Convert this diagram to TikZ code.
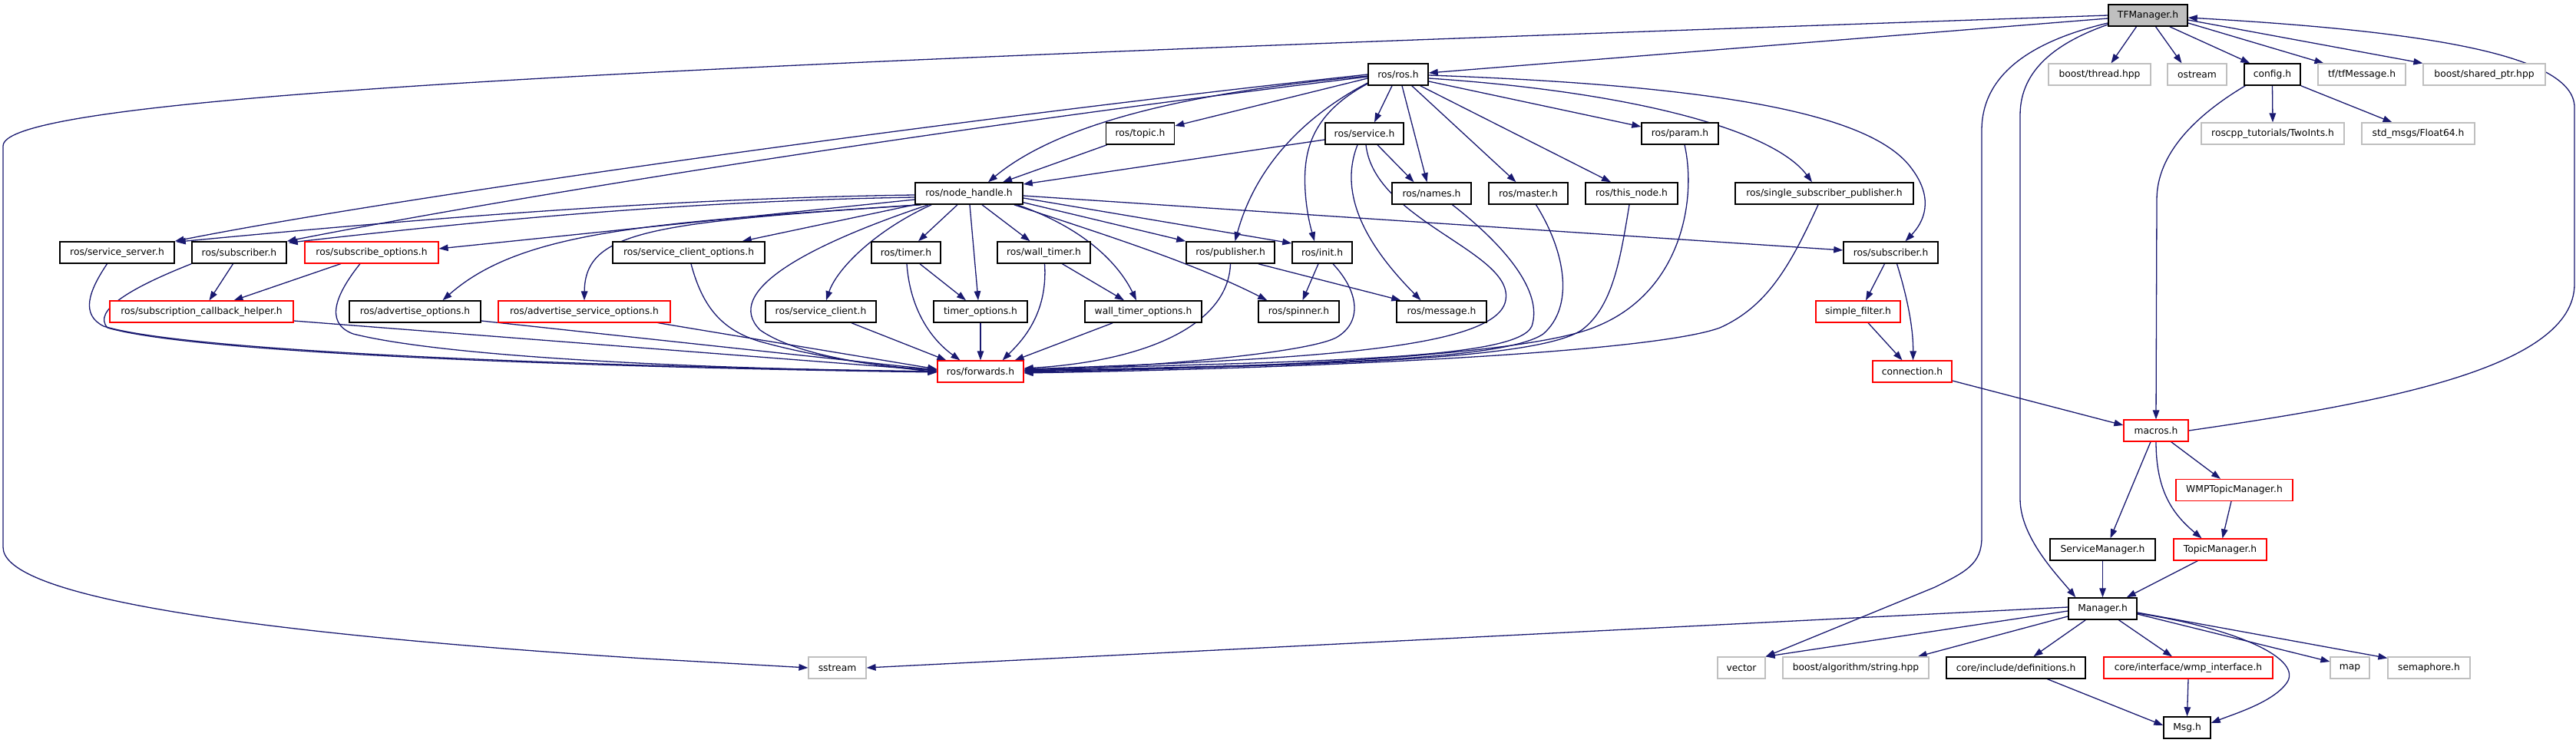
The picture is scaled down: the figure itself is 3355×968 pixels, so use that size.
\documentclass[tikz,border=0pt]{standalone}
\usepackage{fontspec}
\setmainfont{DejaVu Sans}
\usetikzlibrary{arrows.meta,calc,backgrounds}
\definecolor{edgec}{HTML}{191970}
\definecolor{greyb}{HTML}{BFBFBF}
\definecolor{redb}{HTML}{FF0000}
\newcommand\gfont{\fontsize{12.3}{14}\selectfont}
\begin{document}
\begin{tikzpicture}[x=1pt,y=-1pt,
  nb/.style={draw=black, line width=1.5pt, fill=white, minimum height=28pt, inner sep=0pt, font=\gfont},
  nr/.style={nb, draw=redb, line width=1.2pt},
  ng/.style={nb, draw=greyb, line width=1.2pt},
  e/.style={draw=edgec, line width=1.3pt, -{Triangle[length=12pt,width=8.5pt]}}]
\useasboundingbox (0,0) rectangle (3355,968);
% row 0
\node[nb,fill=greyb,minimum width=103pt] (tf) at (2797.5,20) {TFManager.h};
% row 1
\node[nb,minimum width=78pt] (ros) at (1821,97) {ros/ros.h};
\node[ng,minimum width=133pt] (bthread) at (2734.5,97) {boost/thread.hpp};
\node[ng,minimum width=77pt] (ostream) at (2861.5,97) {ostream};
\node[nb,minimum width=73pt] (config) at (2959.5,97) {config.h};
\node[ng,minimum width=114pt] (tfmsg) at (3076,97) {tf/tfMessage.h};
\node[ng,minimum width=159pt] (bshared) at (3235.5,97) {boost/shared\_ptr.hpp};
% row 2
\node[nb,minimum width=89pt] (topic) at (1485,174) {ros/topic.h};
\node[nb,minimum width=102pt] (service) at (1777,174) {ros/service.h};
\node[nb,minimum width=100pt] (param) at (2188,174) {ros/param.h};
\node[ng,minimum width=186pt] (twoints) at (2960,174) {roscpp\_tutorials/TwoInts.h};
\node[ng,minimum width=147pt] (float64) at (3149.5,174) {std\_msgs/Float64.h};
% row 3
\node[nb,minimum width=140pt] (nh) at (1262,252) {ros/node\_handle.h};
\node[nb,minimum width=103pt] (names) at (1864.5,252) {ros/names.h};
\node[nb,minimum width=103pt] (master) at (1990.5,252) {ros/master.h};
\node[nb,minimum width=120pt] (thisnode) at (2125,252) {ros/this\_node.h};
\node[nb,minimum width=232pt] (ssp) at (2376,252) {ros/single\_subscriber\_publisher.h};
% row 4
\node[nb,minimum width=149pt] (ssrv) at (152.5,329) {ros/service\_server.h};
\node[nb,minimum width=123pt] (subA) at (311.5,329) {ros/subscriber.h};
\node[nr,minimum width=174pt] (subopt) at (484,329) {ros/subscribe\_options.h};
\node[nb,minimum width=198pt] (scopt) at (897,329) {ros/service\_client\_options.h};
\node[nb,minimum width=90pt] (timer) at (1180,329) {ros/timer.h};
\node[nb,minimum width=121pt] (wtimer) at (1359.5,329) {ros/wall\_timer.h};
\node[nb,minimum width=115pt] (pub) at (1602.5,329) {ros/publisher.h};
\node[nb,minimum width=78pt] (init) at (1722,329) {ros/init.h};
\node[nb,minimum width=123pt] (subB) at (2462.5,329) {ros/subscriber.h};
% row 5
\node[nr,minimum width=239pt] (scbh) at (262.5,406) {ros/subscription\_callback\_helper.h};
\node[nb,minimum width=171pt] (advopt) at (540.5,406) {ros/advertise\_options.h};
\node[nr,minimum width=224pt] (advsrv) at (761,406) {ros/advertise\_service\_options.h};
\node[nb,minimum width=144pt] (sclient) at (1069,406) {ros/service\_client.h};
\node[nb,minimum width=122pt] (topt) at (1277,406) {timer\_options.h};
\node[nb,minimum width=152pt] (wtopt) at (1489,406) {wall\_timer\_options.h};
\node[nb,minimum width=105pt] (spinner) at (1691.5,406) {ros/spinner.h};
\node[nb,minimum width=117pt] (message) at (1877.5,406) {ros/message.h};
\node[nr,minimum width=110pt] (sfilter) at (2420,406) {simple\_filter.h};
% row 6
\node[nr,minimum width=112pt] (fwd) at (1277,484) {ros/forwards.h};
\node[nr,minimum width=103pt] (conn) at (2490.5,484) {connection.h};
% lower right
\node[nr,minimum width=84pt] (macros) at (2808,561) {macros.h};
\node[nr,minimum width=152pt] (wmptm) at (2910,638.5) {WMPTopicManager.h};
\node[nb,minimum width=137pt] (svcm) at (2738.5,716) {ServiceManager.h};
\node[nr,minimum width=121pt] (tm) at (2891.5,716) {TopicManager.h};
\node[nb,minimum width=89pt] (mgr) at (2738.5,793) {Manager.h};
\node[ng,minimum width=75pt] (sstream) at (1090.5,870) {sstream};
\node[ng,minimum width=62pt] (vector) at (2268,870) {vector};
\node[ng,minimum width=190pt] (bstring) at (2417,870) {boost/algorithm/string.hpp};
\node[nb,minimum width=181pt] (defs) at (2625.5,870) {core/include/definitions.h};
\node[nr,minimum width=220pt] (wmpif) at (2850,870) {core/interface/wmp\_interface.h};
\node[ng,minimum width=51pt] (map) at (3060.5,870) {map};
\node[ng,minimum width=107pt] (sem) at (3163.5,870) {semaphore.h};
\node[nb,minimum width=61pt] (msg) at (2848.5,948) {Msg.h};

\begin{scope}[on background layer]
% TFManager.h
\draw[e] ($(tf.west)+(0,4)$) -- ($(ros.east)+(0,-2)$);
\draw[e] (tf.west) .. controls (1000,80) and (4,120) .. (4,190) -- (4,713) .. controls (4,770) and (250,820) .. (840,858) -- (sstream.west);
\draw[e] ($(tf.west)+(0,10)$) .. controls (2640,55) and (2581,100) .. (2581,170) -- (2581,700) .. controls (2581,735) and (2560,745) .. (2520,765) -- (vector.north east);
\draw[e] ($(tf.west)+(0,12)$) .. controls (2680,55) and (2631,90) .. (2631,150) -- (2631,650) .. controls (2631,700) and (2680,750) .. ($(mgr.north west)+(10,0)$);
\draw[e] ($(tf.south)+(-15,0)$) -- ($(bthread.north)+(15,0)$);
\draw[e] ($(tf.south)+(10,0)$) -- ($(ostream.north)+(-20,0)$);
\draw[e] ($(tf.south east)+(-24,0)$) -- ($(config.north west)+(8,0)$);
\draw[e] ($(tf.east)+(0,10)$) -- ($(tfmsg.north west)+(8,0)$);
\draw[e] ($(tf.east)+(0,6)$) -- (bshared.north west);
% config.h
\draw[e] (config.south) -- (twoints.north);
\draw[e] (config.south east) -- ($(float64.north)+(-34,0)$);
\draw[e] ($(config.south west)+(2,0)$) .. controls (2860,150) and (2809,200) .. (2809,260) -- (macros.north);
% macros.h
\draw[e] (macros.east) .. controls (3100,525) and (3353,480) .. (3353,370) -- (3353,140) .. controls (3353,70) and (3150,40) .. ($(tf.east)+(0,3)$);
\draw[e] ($(macros.south)+(-7,0)$) -- ($(svcm.north)+(10,0)$);
\draw[e] (macros.south) .. controls (2808,640) and (2830,670) .. ($(tm.north)+(-24,0)$);
\draw[e] ($(macros.south east)+(-23,0)$) -- ($(wmptm.north)+(-18,0)$);
\draw[e] ($(wmptm.south)+(-4,0)$) -- ($(tm.north)+(3,0)$);
\draw[e] (svcm.south) -- (mgr.north);
\draw[e] ($(tm.south west)+(32,0)$) -- ($(mgr.north east)+(-14,0)$);
% Manager.h
\draw[e] ($(mgr.west)+(0,-2)$) -- (sstream.east);
\draw[e] ($(mgr.west)+(0,3)$) -- (vector.north east);
\draw[e] ($(mgr.west)+(0,10)$) -- ($(bstring.north east)+(-15,0)$);
\draw[e] ($(mgr.south west)+(23,0)$) -- ($(defs.north)+(23,0)$);
\draw[e] ($(mgr.south)+(21,0)$) -- ($(wmpif.north)+(-21,0)$);
\draw[e] ($(mgr.east)+(0,7)$) -- ($(map.west)+(0,-8)$);
\draw[e] ($(mgr.east)+(0,5)$) -- ($(sem.north west)+(0,2)$);
\draw[e] ($(mgr.east)+(0,6)$) .. controls (2920,820) and (3000,860) .. (2978,890) .. controls (2960,915) and (2910,930) .. ($(msg.east)+(0,-6)$);
\draw[e] ($(defs.south)+(41,0)$) -- ($(msg.west)+(0,-3)$);
\draw[e] (wmpif.south) -- (msg.north);
% ros/ros.h
\draw[e] ($(ros.south)+(-8,0)$) -- ($(service.north)+(13,0)$);
\draw[e] ($(ros.south)+(5,0)$) -- ($(names.north)+(-6,0)$);
\draw[e] ($(ros.south east)+(-22,0)$) -- ($(master.north)+(-16,0)$);
\draw[e] ($(ros.south east)+(-11,0)$) -- ($(thisnode.north)+(-27,0)$);
\draw[e] ($(ros.east)+(0,9)$) -- ($(param.west)+(0,-9)$);
\draw[e] ($(ros.east)+(0,5)$) .. controls (2130,120) and (2310,170) .. ($(ssp.north)+(-16,0)$);
\draw[e] ($(ros.east)+(0,1)$) .. controls (2250,112) and (2440,150) .. (2490,220) .. controls (2520,260) and (2505,290) .. ($(subB.north)+(19,0)$);
\draw[e] ($(ros.west)+(0,12)$) .. controls (1705,150) and (1697,200) .. (1700,250) .. controls (1702,280) and (1708,300) .. ($(init.north)+(-10,0)$);
\draw[e] ($(ros.west)+(0,11)$) .. controls (1720,140) and (1640,200) .. ($(pub.north)+(6,0)$);
\draw[e] ($(ros.west)+(0,5)$) -- ($(topic.east)+(0,-10)$);
\draw[e] ($(ros.west)+(0,2)$) .. controls (1550,120) and (1380,160) .. ($(nh.north)+(25,0)$);
\draw[e] (ros.west) .. controls (1200,160) and (500,260) .. (ssrv.north east);
\draw[e] ($(ros.west)+(0,3)$) .. controls (1200,170) and (650,260) .. (subA.north east);
% ros/service.h
\draw[e] ($(service.west)+(0,8)$) -- ($(nh.east)+(0,-12)$);
\draw[e] ($(service.south)+(17,0)$) -- ($(names.north)+(-23,0)$);
\draw[e] ($(service.south)+(-9,0)$) .. controls (1740,260) and (1790,330) .. ($(message.north)+(-27,0)$);
\draw[e] ($(service.south)+(2,0)$) .. controls (1790,290) and (1980,330) .. (1960,395) .. controls (1940,455) and (1700,468) .. ($(fwd.east)+(0,-3)$);
\draw[e] ($(topic.south west)+(2,0)$) -- ($(nh.north)+(44,0)$);
% to forwards from the right
\draw[e] ($(names.south)+(27,0)$) .. controls (1960,320) and (2010,380) .. (1995,425) .. controls (1975,470) and (1700,470) .. ($(fwd.east)+(0,-2)$);
\draw[e] ($(master.south)+(10,0)$) .. controls (2040,330) and (2050,400) .. (2010,435) .. controls (1960,470) and (1700,475) .. ($(fwd.east)+(0,-1)$);
\draw[e] ($(thisnode.south)+(-3,0)$) .. controls (2110,340) and (2100,400) .. (2060,430) .. controls (2000,470) and (1700,476) .. (fwd.east);
\draw[e] ($(param.south)+(6,0)$) .. controls (2210,260) and (2190,380) .. (2080,425) .. controls (2000,460) and (1700,478) .. ($(fwd.east)+(0,1)$);
\draw[e] ($(ssp.south)+(-8,0)$) .. controls (2330,350) and (2300,400) .. (2240,427) .. controls (2150,460) and (1700,480) .. ($(fwd.east)+(0,2)$);
\draw[e] ($(init.south)+(14,0)$) .. controls (1770,380) and (1775,420) .. (1740,440) .. controls (1700,460) and (1500,478) .. ($(fwd.east)+(0,-1)$);
\draw[e] (pub.south) .. controls (1600,420) and (1500,470) .. ($(fwd.east)+(0,-4)$);
% to forwards from the left
\draw[e] ($(ssrv.south)+(-13,0)$) .. controls (115,380) and (105,410) .. (135,425) .. controls (250,460) and (800,478) .. (fwd.west);
\draw[e] (subA.south west) .. controls (170,375) and (120,405) .. (140,427) .. controls (260,462) and (800,479) .. ($(fwd.west)+(0,1)$);
\draw[e] ($(subopt.south)+(-15,0)$) .. controls (440,380) and (420,420) .. (460,435) .. controls (600,470) and (1000,482) .. ($(fwd.west)+(0,0)$);
\draw[e] ($(scbh.east)+(0,12)$) -- ($(fwd.west)+(0,-1)$);
\draw[e] ($(advopt.east)+(0,12)$) -- ($(fwd.west)+(0,-2)$);
\draw[e] ($(advsrv.south east)+(-17,0)$) -- ($(fwd.west)+(0,-3)$);
\draw[e] ($(scopt.south)+(3,0)$) .. controls (915,400) and (940,430) .. (990,445) .. controls (1080,470) and (1180,480) .. ($(fwd.west)+(0,1)$);
\draw[e] ($(nh.south west)+(18,0)$) .. controls (1050,320) and (940,380) .. (990,430) .. controls (1040,465) and (1150,478) .. ($(fwd.west)+(0,-2)$);
\draw[e] ($(sclient.south)+(40,0)$) -- ($(fwd.north west)+(12,0)$);
\draw[e] ($(timer.south)+(1,0)$) .. controls (1185,400) and (1210,440) .. ($(fwd.north west)+(30,0)$);
\draw[e] (topt.south) -- (fwd.north);
\draw[e] ($(wtimer.south)+(1,0)$) .. controls (1365,410) and (1330,445) .. ($(fwd.north east)+(-28,0)$);
\draw[e] ($(wtopt.south west)+(37,0)$) -- ($(fwd.north east)+(-12,0)$);
% ros/node_handle.h
\draw[e] ($(nh.west)+(0,2)$) .. controls (900,258) and (600,280) .. ($(ssrv.north east)+(2,1)$);
\draw[e] ($(nh.west)+(0,5)$) .. controls (900,262) and (650,285) .. ($(subA.north east)+(2,2)$);
\draw[e] ($(nh.west)+(0,8)$) -- ($(subopt.east)+(0,-5)$);
\draw[e] ($(nh.south west)+(7,0)$) .. controls (850,290) and (680,300) .. ($(advopt.north)+(36,0)$);
\draw[e] ($(nh.south west)+(9,0)$) .. controls (850,290) and (762,300) .. (advsrv.north);
\draw[e] (nh.south west) -- ($(scopt.north east)+(-30,0)$);
\draw[e] ($(nh.south west)+(22,0)$) .. controls (1140,300) and (1090,350) .. ($(sclient.north)+(7,0)$);
\draw[e] ($(nh.south)+(-15,0)$) -- ($(timer.north)+(16,0)$);
\draw[e] ($(nh.south)+(1,0)$) -- ($(topt.north)+(-3,0)$);
\draw[e] ($(nh.south)+(17,0)$) -- ($(wtimer.north)+(-18,0)$);
\draw[e] ($(nh.south east)+(-8,0)$) .. controls (1420,300) and (1460,350) .. ($(wtopt.north)+(-9,0)$);
\draw[e] ($(nh.south east)+(0,-3)$) -- (pub.north west);
\draw[e] ($(nh.east)+(0,6)$) -- ($(init.west)+(0,-12)$);
\draw[e] ($(nh.south east)+(-12,0)$) .. controls (1420,300) and (1550,340) .. ($(spinner.north west)+(12,0)$);
\draw[e] ($(nh.east)+(0,3)$) -- ($(subB.west)+(0,-3)$);
% misc
\draw[e] ($(subA.south)+(-8,0)$) -- ($(scbh.north)+(10,0)$);
\draw[e] ($(subopt.south)+(-40,0)$) -- ($(scbh.north)+(42,0)$);
\draw[e] ($(timer.south)+(18,0)$) -- ($(topt.north)+(-19,0)$);
\draw[e] ($(wtimer.south)+(24,0)$) -- ($(wtopt.north)+(-25,0)$);
\draw[e] ($(pub.south east)+(-22,0)$) -- ($(message.north west)+(6,0)$);
\draw[e] ($(init.south)+(-5,0)$) -- ($(spinner.north)+(5,0)$);
\draw[e] ($(subB.south)+(-8,0)$) -- ($(sfilter.north)+(10,0)$);
\draw[e] ($(subB.south)+(8,0)$) .. controls (2485,390) and (2492,430) .. ($(conn.north)+(1,0)$);
\draw[e] ($(sfilter.south)+(13,0)$) -- ($(conn.north)+(-13,0)$);
\draw[e] ($(conn.east)+(0,12)$) -- ($(macros.west)+(0,-7)$);
\end{scope}
\end{tikzpicture}
\end{document}
